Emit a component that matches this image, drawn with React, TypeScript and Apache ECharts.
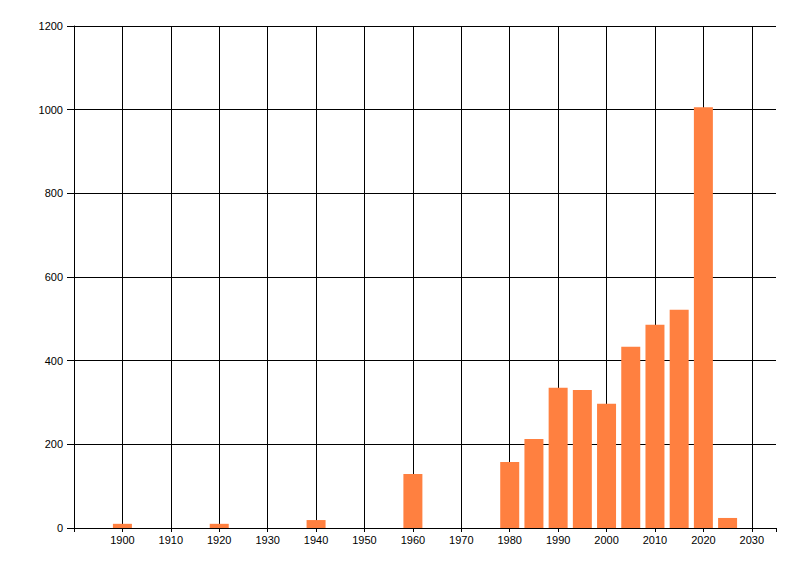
import React, { useEffect, useRef } from "react";
import * as echarts from "echarts";

const years = [1900, 1920, 1940, 1960, 1980, 1985, 1990, 1995, 2000, 2005, 2010, 2015, 2020, 2025];
const counts = [10, 10, 19, 129, 158, 213, 335, 330, 297, 433, 486, 522, 1006, 24];
const yTicks = [0, 200, 400, 600, 800, 1000, 1200];
const xMin = 1890;
const xMax = 2035;

export default function App() {
  const ref = useRef<HTMLDivElement>(null);
  useEffect(() => {
    if (!ref.current) return;
    const chart = echarts.init(ref.current, undefined, { renderer: "svg" });
    const font = { fontFamily: "Liberation Sans", fontSize: 11, color: "#000" };
    chart.setOption({
      animation: false,
      backgroundColor: "#fff",
      grid: { left: 74, right: 24, top: 26, bottom: 48, containLabel: false },
      xAxis: {
        type: "value",
        min: xMin,
        max: xMax,
        interval: 10,
        axisLine: { show: true, lineStyle: { color: "#000", width: 1 } },
        axisTick: { show: true, length: 4, lineStyle: { color: "#000" } },
        axisLabel: {
          ...font,
          margin: 6,
          formatter: (v: number) => (v === xMin || v === xMax ? "" : String(v)),
        },
        splitLine: { show: true, showMinLine: false, showMaxLine: false, lineStyle: { color: "#000", width: 1 } },
      },
      yAxis: {
        type: "value",
        min: yTicks[0],
        max: yTicks[yTicks.length - 1],
        interval: 200,
        axisLine: { show: true, lineStyle: { color: "#000", width: 1 } },
        axisTick: { show: true, length: 7, lineStyle: { color: "#000" } },
        axisLabel: { ...font, margin: 11, formatter: (v: number) => String(v) },
        splitLine: { show: true, lineStyle: { color: "#000", width: 1 } },
      },
      series: [
        {
          type: "bar",
          data: years.map((y, i) => [y, counts[i]]),
          barWidth: 19,
          itemStyle: { color: "#FF8040" },
          z: 3,
        },
      ],
    });
    return () => chart.dispose();
  }, []);
  return (
    <div
      ref={ref}
      style={{ position: "fixed", left: 0, top: 0, width: 800, height: 576 }}
    />
  );
}
